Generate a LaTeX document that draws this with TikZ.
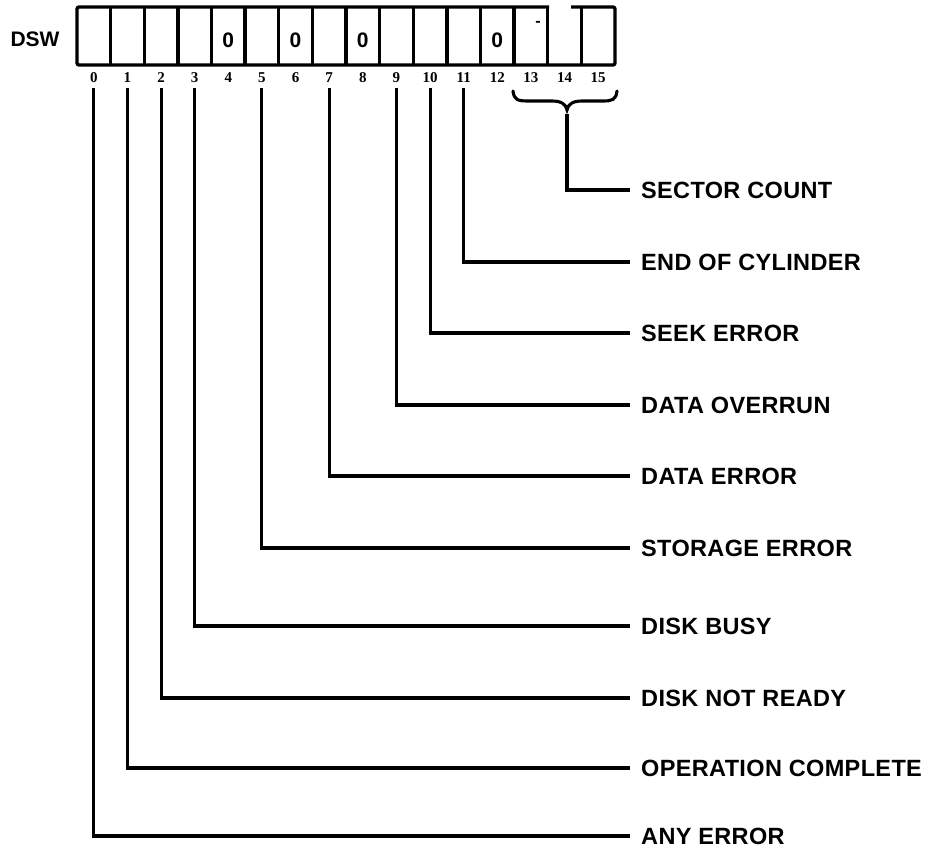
\documentclass[tikz,border=0pt]{standalone}
\usepackage{fontspec}
\setmainfont{Liberation Sans}
\newfontfamily\bitfont{Liberation Serif}
\newfontfamily\lblfont[LetterSpace=1.5]{Liberation Sans}
\begin{document}
\begin{tikzpicture}[x=1pt,y=-1pt,
  boxline/.style={line width=3.4pt, line join=round},
  wire/.style={line width=3.1pt},
  lbl/.style={anchor=west, inner xsep=11pt, inner ysep=0pt, font=\fontsize{23.5}{25}\lblfont\bfseries},
  bitnum/.style={inner sep=0pt, font=\fontsize{15}{16}\bitfont\bfseries},
  cellval/.style={inner sep=0pt, font=\fontsize{21}{23}\selectfont\bfseries}]
\useasboundingbox (0,0) rectangle (927,850);

% register label
\node[inner sep=0pt, font=\fontsize{21}{23}\selectfont\bfseries] (dsw) at (35,39) {DSW};

% register box (top edge broken over bit 14 as in the reference)
\draw[boxline, rounded corners=2pt] (549,7) -- (77,7) -- (77,65) -- (615,65) -- (615,7) -- (571,7);
\foreach \i in {1,...,15}
  \draw[boxline] ({77+33.625*\i},7) -- ({77+33.625*\i},65);

% bit positions, numbers and connector starts
\foreach \i in {0,...,15}{
  \coordinate (c\i) at ({77+33.625*(\i+0.5)},40);
  \node[bitnum] (n\i) at ({77+33.625*(\i+0.5)},78) {\i};
  \coordinate (t\i) at ({77+33.625*(\i+0.5)},88);
}

% fixed values in cells
\foreach \i in {4,6,8,12}
  \node[cellval] (v\i) at (c\i) {0};
\node[inner sep=0pt, font=\fontsize{16}{16}\selectfont\bfseries] (v13) at (538,24) {-};

% labels
\node[lbl] (lsec) at (630,190) {SECTOR COUNT};
\node[lbl] (l11)  at (630,262) {END OF CYLINDER};
\node[lbl] (l10)  at (630,333) {SEEK ERROR};
\node[lbl] (l9)   at (630,405) {DATA OVERRUN};
\node[lbl] (l7)   at (630,476) {DATA ERROR};
\node[lbl] (l5)   at (630,548) {STORAGE ERROR};
\node[lbl] (l3)   at (630,626) {DISK BUSY};
\node[lbl] (l2)   at (630,698) {DISK NOT READY};
\node[lbl] (l1)   at (630,768) {OPERATION COMPLETE};
\node[lbl] (l0)   at (630,836) {ANY ERROR};

% brace over bits 13-15
\draw[line width=3.1pt, line cap=round]
  (513,91) .. controls (514,100) and (518,101) .. (528,101) -- (552,101)
  .. controls (561,101) and (566,104) .. (567,110)
  .. controls (568,104) and (573,101) .. (582,101) -- (603,101)
  .. controls (612,101) and (616,100) .. (617,91);
\coordinate (tip) at (567,114);

% connectors
\draw[wire] (tip) |- (lsec.west);
\draw[wire] (t11) |- (l11.west);
\draw[wire] (t10) |- (l10.west);
\draw[wire] (t9)  |- (l9.west);
\draw[wire] (t7)  |- (l7.west);
\draw[wire] (t5)  |- (l5.west);
\draw[wire] (t3)  |- (l3.west);
\draw[wire] (t2)  |- (l2.west);
\draw[wire] (t1)  |- (l1.west);
\draw[wire] (t0)  |- (l0.west);
\end{tikzpicture}
\end{document}
